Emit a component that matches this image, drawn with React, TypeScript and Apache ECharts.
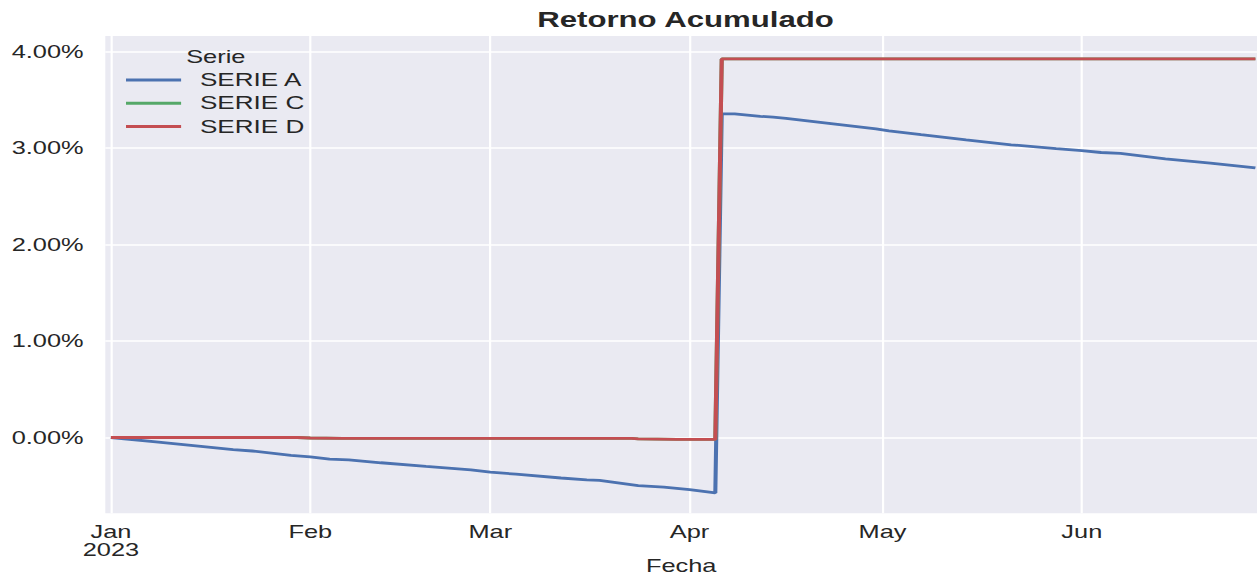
import React, { useEffect, useRef } from "react";
import * as echarts from "echarts";

// ---------- data ----------
const monthTicks = ["2023-01-01", "2023-02-01", "2023-03-01", "2023-04-01", "2023-05-01", "2023-06-01"];
const monthNames = ["Jan", "Feb", "Mar", "Apr", "May", "Jun", "Jul", "Aug", "Sep", "Oct", "Nov", "Dec"];
const yTicks = [0, 1, 2, 3, 4];

const datesA = [
  "2023-01-01", "2023-01-08", "2023-01-15", "2023-01-20", "2023-01-23", "2023-01-29", "2023-02-01",
  "2023-02-04", "2023-02-07", "2023-02-12", "2023-02-19", "2023-02-26", "2023-03-01", "2023-03-05",
  "2023-03-12", "2023-03-16", "2023-03-18", "2023-03-24", "2023-03-28", "2023-04-01", "2023-04-05",
  "2023-04-06", "2023-04-08", "2023-04-12", "2023-04-14", "2023-04-16", "2023-04-23", "2023-04-30",
  "2023-05-02", "2023-05-07", "2023-05-14", "2023-05-21", "2023-05-28", "2023-06-01", "2023-06-04",
  "2023-06-07", "2023-06-14", "2023-06-21", "2023-06-28",
];
const serieA = [
  0.0, -0.046, -0.092, -0.125, -0.14, -0.185, -0.2,
  -0.225, -0.232, -0.262, -0.3, -0.335, -0.36, -0.38,
  -0.42, -0.44, -0.445, -0.5, -0.515, -0.54, -0.575,
  3.355, 3.355, 3.33, 3.322, 3.31, 3.255, 3.2,
  3.18, 3.14, 3.085, 3.035, 2.995, 2.975, 2.955,
  2.945, 2.89, 2.845, 2.795,
];

const datesC = [
  "2023-01-01", "2023-01-30", "2023-02-01", "2023-02-06", "2023-03-23", "2023-03-24",
  "2023-03-30", "2023-04-05", "2023-04-06", "2023-06-28",
];
const serieC = [0.0, 0.0, -0.005, -0.01, -0.01, -0.015, -0.02, -0.02, 3.925, 3.925];

const datesD = [
  "2023-01-01", "2023-01-30", "2023-02-01", "2023-02-06", "2023-03-23", "2023-03-24",
  "2023-03-30", "2023-04-05", "2023-04-06", "2023-06-28",
];
const serieD = [0.0, 0.0, -0.005, -0.01, -0.01, -0.015, -0.02, -0.02, 3.925, 3.925];

const toTs = (s: string) => new Date(s + "T00:00:00Z").getTime();
const pair = (ds: string[], vs: number[]) => ds.map((d, i) => [toTs(d), vs[i]]);

// horizontal stretch of the reference picture
const STRETCH = 1.45;
const W = 1257 / STRETCH;
const H = 577;
const FONT = "Liberation Sans, Arial, sans-serif";
const TXT = "#262626";

export default function App() {
  const ref = useRef<HTMLDivElement>(null);
  useEffect(() => {
    if (!ref.current) return;
    const chart = echarts.init(ref.current, undefined, { renderer: "svg", width: W, height: H });
    const xMin = Date.UTC(2022, 11, 31, 3);
    const xMax = Date.UTC(2023, 5, 28, 6);
    chart.setOption({
      animation: false,
      backgroundColor: "#ffffff",
      textStyle: { fontFamily: FONT, color: TXT },
      title: [
        {
          text: "Retorno Acumulado",
          left: 685.5 / STRETCH,
          textAlign: "center",
          top: 9,
          padding: 0,
          textStyle: { fontFamily: FONT, fontSize: 21.5, fontWeight: "bold", color: TXT },
        },
        {
          text: "Serie",
          left: 215.8 / STRETCH,
          textAlign: "center",
          top: 48,
          padding: 0,
          textStyle: { fontFamily: FONT, fontSize: 17.5, fontWeight: "normal", color: TXT },
        },
      ],
      legend: {
        orient: "vertical",
        left: 126 / STRETCH,
        top: 71,
        padding: 0,
        icon: "rect",
        itemWidth: 38,
        itemHeight: 3,
        itemGap: 5.3,
        data: ["SERIE A", "SERIE C", "SERIE D"],
        textStyle: { fontFamily: FONT, fontSize: 18, color: TXT, padding: [0, 0, 0, 8] },
      },
      grid: {
        left: 105.3 / STRETCH,
        right: 0,
        top: 36,
        bottom: 63.7,
        show: true,
        backgroundColor: "#EAEAF2",
        borderWidth: 0,
        containLabel: false,
        outerBoundsMode: "none",
      },
      xAxis: {
        type: "value",
        min: xMin,
        max: xMax,
        name: "Fecha",
        nameLocation: "middle",
        nameGap: 44,
        nameMoveOverlap: false,
        nameTextStyle: { fontFamily: FONT, fontSize: 17.5, color: TXT, verticalAlign: "top" },
        axisLine: { show: false },
        axisTick: { show: false, customValues: monthTicks.map(toTs) },
        axisLabel: {
          customValues: monthTicks.map(toTs),
          fontFamily: FONT,
          fontSize: 17.5,
          lineHeight: 18,
          color: TXT,
          margin: 10,
          hideOverlap: false,
          showMinLabel: true,
          showMaxLabel: true,
          formatter: (v: number) => {
            const d = new Date(v);
            const m = monthNames[d.getUTCMonth()];
            return d.getUTCMonth() === 0 ? m + "\n" + d.getUTCFullYear() : m;
          },
        },
        splitLine: { show: true, lineStyle: { color: "#ffffff", width: 1.5 } },
      },
      yAxis: {
        type: "value",
        min: -0.786,
        max: 4.163,
        axisLine: { show: false },
        axisTick: { show: false, customValues: yTicks },
        axisLabel: {
          customValues: yTicks,
          fontFamily: FONT,
          fontSize: 17.5,
          color: TXT,
          margin: 15,
          formatter: (v: number) => v.toFixed(2) + "%",
        },
        splitLine: { show: true, lineStyle: { color: "#ffffff", width: 1.5 } },
      },
      series: [
        {
          name: "SERIE A",
          type: "line",
          data: pair(datesA, serieA),
          showSymbol: false,
          symbol: "none",
          color: "#4C72B0",
          lineStyle: { width: 2.8, color: "#4C72B0" },
        },
        {
          name: "SERIE C",
          type: "line",
          data: pair(datesC, serieC),
          showSymbol: false,
          symbol: "none",
          color: "#55A868",
          lineStyle: { width: 2.8, color: "#55A868" },
        },
        {
          name: "SERIE D",
          type: "line",
          data: pair(datesD, serieD),
          showSymbol: false,
          symbol: "none",
          color: "#C44E52",
          lineStyle: { width: 2.8, color: "#C44E52" },
        },
      ],
    });
    return () => chart.dispose();
  }, []);
  return (
    <div
      ref={ref}
      style={{
        position: "absolute",
        left: 0,
        top: 0,
        width: W,
        height: H,
        transform: `scaleX(${STRETCH})`,
        transformOrigin: "0 0",
      }}
    />
  );
}
